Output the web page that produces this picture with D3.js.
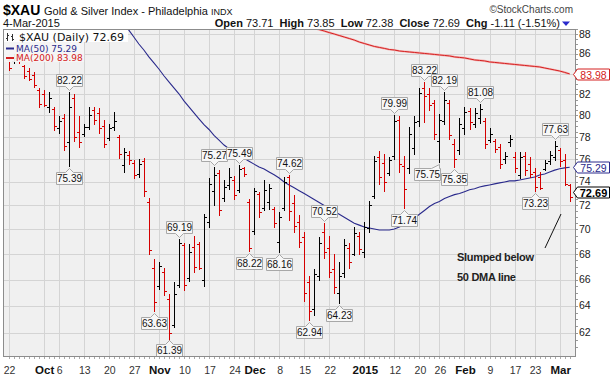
<!DOCTYPE html>
<html><head><meta charset="utf-8">
<script src="https://cdn.jsdelivr.net/npm/d3@7"></script>
<style>body{margin:0;background:#fff}svg{display:block}</style>
</head><body><svg id="c" width="613" height="379"></svg>
<script>
// ---------------- DATA ----------------
const dates = [
"2014-09-22","2014-09-23","2014-09-24","2014-09-25","2014-09-26","2014-09-29","2014-09-30",
"2014-10-01","2014-10-02","2014-10-03","2014-10-06","2014-10-07","2014-10-08","2014-10-09","2014-10-10",
"2014-10-13","2014-10-14","2014-10-15","2014-10-16","2014-10-17","2014-10-20","2014-10-21","2014-10-22",
"2014-10-23","2014-10-24","2014-10-27","2014-10-28","2014-10-29","2014-10-30","2014-10-31",
"2014-11-03","2014-11-04","2014-11-05","2014-11-06","2014-11-07","2014-11-10","2014-11-11","2014-11-12",
"2014-11-13","2014-11-14","2014-11-17","2014-11-18","2014-11-19","2014-11-20","2014-11-21","2014-11-24",
"2014-11-25","2014-11-26","2014-11-28",
"2014-12-01","2014-12-02","2014-12-03","2014-12-04","2014-12-05","2014-12-08","2014-12-09","2014-12-10",
"2014-12-11","2014-12-12","2014-12-15","2014-12-16","2014-12-17","2014-12-18","2014-12-19","2014-12-22",
"2014-12-23","2014-12-24","2014-12-26","2014-12-29","2014-12-30","2014-12-31",
"2015-01-02","2015-01-05","2015-01-06","2015-01-07","2015-01-08","2015-01-09","2015-01-12","2015-01-13",
"2015-01-14","2015-01-15","2015-01-16","2015-01-20","2015-01-21","2015-01-22","2015-01-23","2015-01-26",
"2015-01-27","2015-01-28","2015-01-29","2015-01-30",
"2015-02-02","2015-02-03","2015-02-04","2015-02-05","2015-02-06","2015-02-09","2015-02-10","2015-02-11",
"2015-02-12","2015-02-13","2015-02-17","2015-02-18","2015-02-19","2015-02-20","2015-02-23","2015-02-24",
"2015-02-25","2015-02-26","2015-02-27",
"2015-03-02","2015-03-03","2015-03-04"];

const opens = [85.4,85.3,85.7,84.8,84.3,83.9,82.4, 82.0,80.8,80.6,78.8,79.8,77.5,81.6,78.5,78.3,78.9,80.5,80.2,79.0,77.9,78.9,78.0,75.5,76.4,75.7,74.7,75.8,72.3,66.9,
65.5,66.6,64.5,62.6,65.6,68.7,66.1,68.6,68.8,66.0,70.6,73.2,74.8,72.6,73.7,74.2,73.3,75.2,72.3,
69.9,73.0,71.8,72.3,71.7,69.0,71.8,74.4,72.2,70.6,69.4,65.8,63.8,66.3,69.8,68.5,66.8,65.0,66.5,68.5,68.0,69.5,
68.2,70.1,72.8,76.2,75.7,74.8,76.3,79.6,75.4,75.2,77.0,79.5,82.6,82.0,81.2,77.6,79.5,81.2,77.4,76.8,
78.8,80.4,79.2,79.8,79.5,77.7,77.6,77.1,76.0,77.5,76.2,74.6,76.3,75.6,74.9,74.4,75.1,75.8,76.2,
76.8,75.9,73.71];
const highs = [85.6,86.0,86.3,84.9,84.6,84.2,82.6, 82.4,82.2,80.8,79.9,80.1,82.22,82.0,79.9,79.2,80.8,80.8,80.7,79.6,79.2,80.3,78.2,77.0,76.7,75.9,76.0,76.1,72.6,67.6,
67.4,66.9,64.9,65.8,69.19,68.9,68.8,69.5,69.0,71.3,74.3,75.27,75.0,74.2,75.2,74.5,75.49,75.3,72.5,
73.5,73.1,74.2,73.8,71.9,71.4,74.4,74.62,72.9,71.2,69.8,66.3,66.8,69.4,70.52,69.5,68.0,67.4,69.2,68.9,70.2,69.8,
70.6,72.4,76.3,76.7,76.5,76.2,79.99,79.9,76.3,78.9,79.9,82.6,83.22,82.6,81.5,80.1,82.19,81.5,77.8,79.8,
80.8,80.7,80.7,81.08,79.8,78.8,77.8,77.4,76.6,78.2,76.6,76.6,76.6,76.2,75.2,74.9,75.9,76.7,77.63,
77.0,76.5,73.85];
const lows = [84.4,85.1,85.1,83.6,83.4,82.7,80.8, 80.9,80.3,78.6,78.4,76.8,75.39,77.6,77.1,78.1,78.7,79.2,78.4,77.1,77.7,78.6,76.1,74.9,75.6,74.3,74.4,72.8,68.0,63.63,
65.3,64.8,61.39,62.4,65.4,65.2,65.9,66.6,66.8,65.5,70.2,72.0,71.2,72.4,73.4,72.5,73.1,74.5,68.22,
69.6,71.0,71.6,71.7,70.2,68.16,71.6,70.8,69.8,68.6,64.4,62.94,63.3,66.0,67.7,66.2,65.0,64.23,66.2,66.9,67.9,68.0,
67.8,69.8,72.6,73.8,73.2,74.6,76.0,74.9,71.74,74.8,76.5,79.0,79.4,80.5,77.8,75.75,79.2,77.8,75.35,76.5,
78.3,78.7,78.9,79.3,77.0,77.5,76.6,75.2,75.7,77.2,74.9,74.3,74.6,74.4,73.23,73.4,75.0,75.6,75.9,
75.4,73.7,72.38];
const closes = [84.6,85.6,85.3,83.8,83.5,82.9,81.1, 81.0,81.6,79.0,79.5,77.2,80.8,78.0,77.5,78.9,80.0,79.6,78.8,77.4,78.8,79.5,76.5,76.6,75.9,74.6,75.6,73.2,68.3,64.3,
67.1,65.1,62.0,64.9,68.9,65.6,68.2,67.0,66.9,71.0,73.8,74.6,71.6,73.6,74.4,72.9,75.1,74.7,68.5,
73.2,71.4,73.3,73.5,70.5,71.0,74.0,71.5,70.3,69.0,65.0,63.6,66.4,68.9,68.2,66.6,65.4,66.3,68.7,67.4,69.7,68.4,
70.2,72.0,75.8,74.4,74.0,75.9,79.5,75.6,73.4,78.3,79.4,82.1,81.8,81.0,78.3,79.6,81.5,78.2,76.0,79.2,
80.3,79.4,80.2,80.6,77.4,78.3,76.9,75.6,76.3,77.8,75.2,76.2,75.0,74.7,73.6,73.5,75.7,76.4,77.2,
75.8,73.80,72.69];

// 50-day moving average, starting 2014-10-23
const ma50Start = "2014-10-23";
const ma50 = [89.1,88.41,87.69,86.98,86.37,85.67,85.07,84.47,83.80,83.21,82.63,82.05,81.38,80.80,80.24,79.68,79.13,78.69,78.14,77.71,
77.27,76.93,76.58,76.32,76.07,75.81,75.56,75.30,75.13,74.87,74.62,74.34,74.00,73.74,73.49,73.24,73.00,72.75,72.50,72.24,
71.99,71.74,71.49,71.25,71.00,70.75,70.51,70.35,70.19,70.11,70.03,69.95,69.95,69.95,70.03,70.19,70.43,70.67,70.92,71.25,
71.57,71.90,72.16,72.32,72.57,72.75,72.91,73.00,73.16,73.32,73.41,73.57,73.66,73.74,73.83,73.92,74.00,74.09,74.09,74.17,
74.26,74.34,74.43,74.60,74.69,74.86,75.03,75.15,75.23,75.29];
// 200-day moving average, starting 2014-12-17
const ma200Start = "2014-12-17";
const ma200 = [88.62,88.46,88.31,88.15,88.00,87.85,87.69,87.54,87.38,87.18,87.03,
86.88,86.73,86.63,86.53,86.42,86.37,86.27,86.22,86.17,86.12,
86.07,86.02,85.97,85.92,85.87,85.82,85.77,85.67,85.62,85.57,
85.47,85.37,85.32,85.27,85.17,85.12,85.07,85.02,84.97,84.92,
84.87,84.82,84.77,84.72,84.67,84.57,84.47,84.37,84.27,84.13,83.98];

const yTicks = [62,64,66,68,70,72,74,76,78,80,82,84,86,88];
const xTickDates  = ["2014-09-22","2014-10-01","2014-10-06","2014-10-13","2014-10-20","2014-10-27","2014-11-03","2014-11-10","2014-11-17","2014-11-24","2014-12-01","2014-12-08","2014-12-15","2014-12-22","2015-01-02","2015-01-12","2015-01-20","2015-01-26","2015-02-02","2015-02-09","2015-02-17","2015-02-23","2015-03-02"];
const xTickLabels = ["22","Oct","6","13","20","27","Nov","10","17","24","Dec","8","15","22","2015","12","20","26","Feb","9","17","23","Mar"];
const xTickBold   = ["Oct","Nov","Dec","2015","Feb","Mar"];

const highLabelDates = ["2014-10-08","2014-11-07","2014-11-18","2014-11-25","2014-12-10","2014-12-19","2015-01-12","2015-01-21","2015-01-27","2015-02-05","2015-02-27"];
const lowLabelDates  = ["2014-10-08","2014-10-31","2014-11-05","2014-11-28","2014-12-08","2014-12-16","2014-12-24","2015-01-14","2015-01-26","2015-01-29","2015-02-23"];

const titleSym = "$XAU", titleName = "Gold & Silver Index - Philadelphia", titleExch = "INDX";
const lastDate = "4-Mar-2015";
const quote = {open:"73.71", high:"73.85", low:"72.38", close:"72.69", chg:"-1.11 (-1.51%)"};
const noteLines = ["Slumped below","50 DMA line"];

// ---------------- DRAW ----------------
const svg = d3.select("#c");
const P = {l:3, r:576, t:29, b:357};
const x = d3.scalePoint().domain(dates).range([8.6, 569.7]);
const y = d3.scaleLog().domain([60.28, 88.52]).range([P.b, P.t]);
const idx = new Map(dates.map((d,i)=>[d,i]));
const crisp = v => Math.round(v) + 0.5;
const AR = "Liberation Sans, Arial, sans-serif";
const DJ = "DejaVu Sans, Verdana, sans-serif";

svg.append("rect").attr("width",613).attr("height",379).attr("fill","#fff");
svg.append("defs").append("clipPath").attr("id","clip").append("rect")
  .attr("x",P.l).attr("y",P.t).attr("width",P.r-P.l).attr("height",P.b-P.t);
svg.append("rect").attr("x",P.l).attr("y",P.t).attr("width",P.r-P.l).attr("height",P.b-P.t).attr("fill","#f0f0f0");

// grid
const grid = svg.append("g").attr("stroke","#d4d4d4").attr("stroke-width",1);
yTicks.forEach(t=>grid.append("line").attr("x1",P.l).attr("x2",P.r).attr("y1",crisp(y(t))).attr("y2",crisp(y(t))));
xTickDates.forEach(d=>grid.append("line").attr("x1",crisp(x(d))).attr("x2",crisp(x(d))).attr("y1",P.t).attr("y2",P.b));

const plot = svg.append("g").attr("clip-path","url(#clip)");

// moving averages
const line = d3.line().x(d=>x(d[0])).y(d=>y(d[1])).curve(d3.curveLinear);
const ma200Pts = ma200.map((v,k)=>[dates[idx.get(ma200Start)+k], v]);
const ma50Pts  = ma50.map((v,k)=>[dates[idx.get(ma50Start)+k], v]);
plot.append("path").attr("d",line(ma200Pts)).attr("fill","none").attr("stroke","#f4b4b4").attr("stroke-width",2.2);
plot.append("path").attr("d",line(ma200Pts)).attr("fill","none").attr("stroke","#d42020").attr("stroke-width",1);
plot.append("path").attr("d",line(ma50Pts)).attr("fill","none").attr("stroke","#2a2a8c").attr("stroke-width",1.1);

// OHLC bars
const bars = plot.append("g");
dates.forEach((d,i)=>{
  const prev = i>0 ? closes[i-1] : opens[i];
  const col = closes[i] >= prev ? "#000" : "#d40000";
  const xc = crisp(x(d));
  const g = bars.append("g").attr("stroke",col).attr("stroke-width",1).attr("shape-rendering","crispEdges");
  g.append("line").attr("x1",xc).attr("x2",xc).attr("y1",Math.round(y(highs[i]))).attr("y2",Math.round(y(lows[i]))+1);
  g.append("line").attr("x1",xc-2.5).attr("x2",xc).attr("y1",crisp(y(opens[i]))).attr("y2",crisp(y(opens[i])));
  g.append("line").attr("x1",xc).attr("x2",xc+2.5).attr("y1",crisp(y(closes[i]))).attr("y2",crisp(y(closes[i])));
});

// value call-out labels; a low label that would collide with an already placed one is slid left
const placedLows = [];
function callout(d, v, isHigh){
  const cx = x(d);
  const txt = v.toFixed(2);
  const w = 26, h = 12;
  let tip = isHigh ? y(v) - 2 : y(v) + 2;
  let y0 = isHigh ? tip - 4 - h : tip + 4;
  if (!isHigh && y0 + h > P.b - 1) { y0 = P.b - 1 - h; tip = y0 - 4; }
  let bx = cx - w/2;
  if (!isHigh) {
    const hits = b => !(bx + w + 1 < b.x || bx > b.x + b.w + 1 || y0 + h < b.y || y0 > b.y + b.h);
    let guard = 0;
    while (placedLows.some(hits) && guard++ < 40) bx -= 1;
    placedLows.push({x:bx, y:y0, w, h});
  }
  const x0 = Math.round(bx) + 0.5, x1 = x0 + w;
  const c = Math.round(cx) + 0.5;
  const pc = Math.min(Math.max(c, x0 + 5), x1 - 5);
  const yy0 = Math.round(y0) + 0.5, yy1 = yy0 + h;
  let p;
  if (isHigh) p = `M${x0},${yy0}H${x1}V${yy1}H${pc+4}L${c},${yy1+4}L${pc-4},${yy1}H${x0}Z`;
  else p = `M${x0},${yy0}H${pc-4}L${c},${yy0-4}L${pc+4},${yy0}H${x1}V${yy1}H${x0}Z`;
  svg.append("path").attr("d",p).attr("fill","#f7f7f7").attr("stroke","#a8a8a8").attr("stroke-width",1);
  svg.append("text").attr("x",x0 + w/2).attr("y",yy0 + 9.5).attr("text-anchor","middle")
    .attr("font-family",AR).attr("font-size",10).attr("fill","#111").text(txt);
}
highLabelDates.forEach(d=>callout(d, highs[idx.get(d)], true));
lowLabelDates.slice().reverse().forEach(d=>callout(d, lows[idx.get(d)], false));

// legend
const lg = svg.append("g");
lg.append("rect").attr("x",P.l+1).attr("y",P.t+1).attr("width",124).attr("height",12).attr("fill","#fff").attr("opacity",0.9);
lg.append("rect").attr("x",P.l+1).attr("y",P.t+13).attr("width",80).attr("height",20).attr("fill","#f4f4f4").attr("opacity",0.95);
const ic = lg.append("g").attr("stroke","#333").attr("stroke-width",1).attr("shape-rendering","crispEdges");
ic.append("line").attr("x1",7.5).attr("x2",7.5).attr("y1",33).attr("y2",41);
ic.append("line").attr("x1",6).attr("x2",7.5).attr("y1",38.5).attr("y2",38.5);
ic.append("line").attr("x1",7.5).attr("x2",9).attr("y1",35.5).attr("y2",35.5);
ic.append("line").attr("x1",12.5).attr("x2",12.5).attr("y1",34).attr("y2",41);
ic.append("line").attr("x1",11).attr("x2",12.5).attr("y1",36.5).attr("y2",36.5);
ic.append("line").attr("x1",12.5).attr("x2",14).attr("y1",39.5).attr("y2",39.5);
lg.append("text").attr("x",19).attr("y",40.5).attr("font-family",DJ).attr("font-size",11).attr("fill","#111")
  .text(`${titleSym} (Daily) ${quote.close}`);
lg.append("line").attr("x1",6).attr("x2",14).attr("y1",48.5).attr("y2",48.5).attr("stroke","#2a2a8c").attr("stroke-width",2);
lg.append("text").attr("x",16).attr("y",51.5).attr("font-family",DJ).attr("font-size",9).attr("fill","#2a2a8c")
  .text(`MA(50) ${ma50[ma50.length-1].toFixed(2)}`);
lg.append("line").attr("x1",6).attr("x2",14).attr("y1",58).attr("y2",58).attr("stroke","#d42020").attr("stroke-width",2);
lg.append("text").attr("x",16).attr("y",61).attr("font-family",DJ).attr("font-size",9).attr("fill","#d42020")
  .text(`MA(200) ${ma200[ma200.length-1].toFixed(2)}`);

// plot border
svg.append("rect").attr("x",P.l+0.5).attr("y",P.t+0.5).attr("width",P.r-P.l-1).attr("height",P.b-P.t-1)
  .attr("fill","none").attr("stroke","#8c8c8c");

// right-side value tags
const tagVals = [
  {v: ma200[ma200.length-1], color:"#d42020", bold:false, dy:0},
  {v: ma50[ma50.length-1],   color:"#2a2a8c", bold:false, dy:0},
  {v: closes[closes.length-1], color:"#000", bold:true, dy:-5}];

// right axis
const ra = svg.append("g");
d3.range(61,89,0.5).forEach(v=>{
  if (y(v) < P.t || y(v) > P.b) return;
  ra.append("line").attr("x1",P.r).attr("x2",P.r+2).attr("y1",crisp(y(v))).attr("y2",crisp(y(v))).attr("stroke","#999");
});
yTicks.forEach(t=>{
  const covered = tagVals.some(tv => Math.abs(y(tv.v) + tv.dy - y(t)) < 3);
  if (covered) return;
  ra.append("text").attr("x",579).attr("y",y(t)+3.5).attr("font-family",AR).attr("font-size",10.5).attr("fill","#222").text(t);
});

// bottom axis
const ba = svg.append("g");
dates.forEach(d=>ba.append("line").attr("x1",crisp(x(d))).attr("x2",crisp(x(d))).attr("y1",P.b).attr("y2",P.b+2).attr("stroke","#aaa"));
xTickDates.forEach((d,k)=>{
  const lab = xTickLabels[k];
  const b = xTickBold.includes(lab);
  ba.append("text").attr("x",x(d)+1).attr("y",374).attr("text-anchor","middle").attr("font-family",AR)
    .attr("font-size",b?11.5:10.5).attr("font-weight",b?"bold":"normal").attr("fill",b?"#111":"#333").text(lab);
});

function tag(v, color, bold, dy){
  const yc = Math.round(y(v) + dy) + 0.5;
  const x0 = 577.5, x1 = 609.5, h = 11;
  const p = `M${x0-4},${yc}L${x0},${yc-h/2}H${x1}V${yc+h/2}H${x0}Z`;
  svg.append("path").attr("d",p).attr("fill","#fff").attr("stroke",color).attr("stroke-width",1);
  svg.append("text").attr("x",(x0+x1)/2).attr("y",yc+4).attr("text-anchor","middle").attr("font-family",AR)
    .attr("font-size",bold?11:10.5).attr("font-weight",bold?"bold":"normal").attr("fill",color).text(v.toFixed(2));
}
tagVals.forEach(t=>tag(t.v, t.color, t.bold, t.dy));

// header
const hd = svg.append("g").attr("font-family",AR);
hd.append("text").attr("x",3).attr("y",15).attr("font-size",14).attr("font-weight","bold").attr("fill","#000").text(titleSym);
hd.append("text").attr("x",44).attr("y",15).attr("font-size",11).attr("fill","#111").text(titleName);
hd.append("text").attr("x",211).attr("y",15).attr("font-size",9).attr("fill","#111").text(titleExch);
hd.append("text").attr("x",573).attr("y",13).attr("text-anchor","end").attr("font-size",10).attr("fill","#444").text("\u00A9StockCharts.com");
hd.append("text").attr("x",3).attr("y",27).attr("font-size",11).attr("fill","#111").text(lastDate);
const q = hd.append("text").attr("x",560).attr("y",27).attr("text-anchor","end").attr("font-size",11).attr("fill","#111");
[["Open ",true],[quote.open+"  ",false],["High ",true],[quote.high+"  ",false],["Low ",true],[quote.low+"  ",false],
 ["Close ",true],[quote.close+"  ",false],["Chg ",true],[quote.chg,false]].forEach(([t,b])=>{
  q.append("tspan").attr("font-weight",b?"bold":"normal").attr("xml:space","preserve").text(t);
});
svg.append("path").attr("d","M562,21.5H570L566,26Z").attr("fill","#2a2acc");

// annotation
const an = svg.append("g");
an.append("line").attr("x1",545).attr("y1",248).attr("x2",561).attr("y2",214).attr("stroke","#111").attr("stroke-width",1);
noteLines.forEach((t,k)=>an.append("text").attr("x",457).attr("y",261+k*20).attr("font-family",AR)
  .attr("font-size",11).attr("font-weight","bold").attr("letter-spacing",-0.3).attr("fill","#222").text(t));
</script>
</body></html>
